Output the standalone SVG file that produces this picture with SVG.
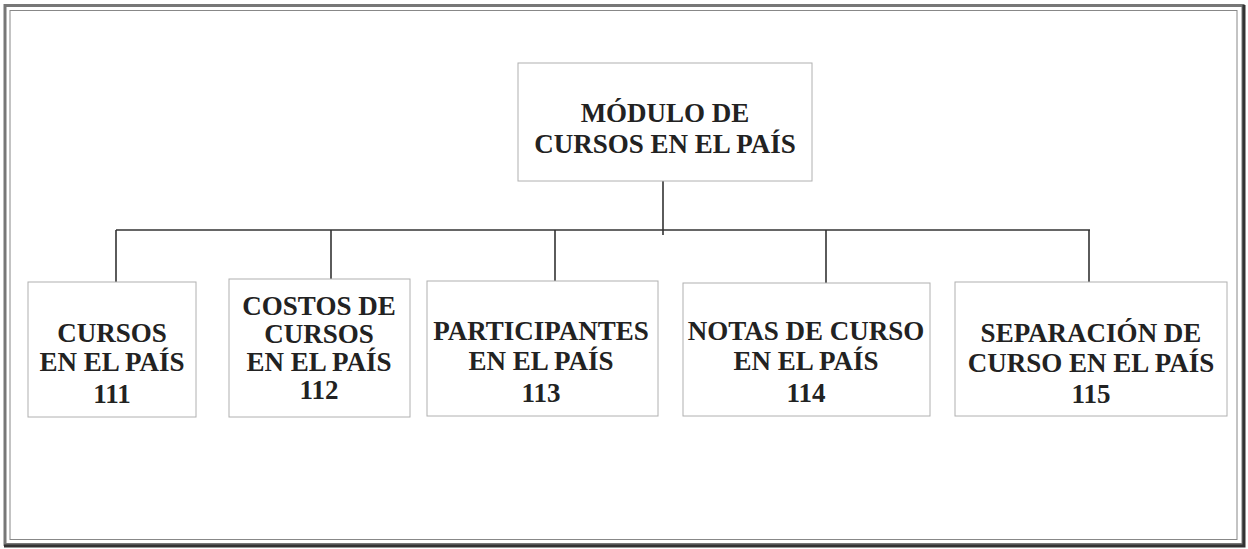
<svg xmlns="http://www.w3.org/2000/svg" width="1248" height="549" viewBox="0 0 1248 549">
<style>
.box{fill:#fff;stroke:#b0b0b0;stroke-width:1}
.t{font-family:"Liberation Serif","Times New Roman",serif;font-weight:bold;font-size:27px;fill:#222;text-anchor:middle}
.c{stroke:#333;stroke-width:1.6;fill:none}
</style>
<rect x="0" y="0" width="1248" height="549" fill="#fff"/>
<g id="frame">
<rect x="5" y="5.5" width="1238" height="539" fill="none" stroke="#777" stroke-width="3"/>
<rect x="10" y="10.5" width="1227" height="529" fill="none" stroke="#888" stroke-width="1"/>
<path d="M1244 5 V546 H4" fill="none" stroke="#333" stroke-width="3"/>
</g>
<g id="connectors">
<path class="c" d="M663 181 V235"/>
<path class="c" d="M116 230 H1090"/>
<path class="c" d="M116 230 V282"/>
<path class="c" d="M331 230 V279"/>
<path class="c" d="M555 230 V281"/>
<path class="c" d="M826 230 V283"/>
<path class="c" d="M1089 230 V282"/>
</g>
<g id="root">
<rect class="box" x="518" y="63" width="294" height="118"/>
<text class="t" x="665" y="122">MÓDULO DE</text>
<text class="t" x="665" y="153">CURSOS EN EL PAÍS</text>
</g>
<g id="n111">
<rect class="box" x="28" y="282" width="168" height="135"/>
<text class="t" x="112" y="342">CURSOS</text>
<text class="t" x="112" y="371">EN EL PAÍS</text>
<text class="t" x="112" y="403">111</text>
</g>
<g id="n112">
<rect class="box" x="229" y="279" width="181" height="138"/>
<text class="t" x="319" y="315">COSTOS DE</text>
<text class="t" x="319" y="343">CURSOS</text>
<text class="t" x="319" y="371">EN EL PAÍS</text>
<text class="t" x="319" y="399">112</text>
</g>
<g id="n113">
<rect class="box" x="427" y="281" width="231" height="135"/>
<text class="t" x="541" y="340">PARTICIPANTES</text>
<text class="t" x="541" y="370">EN EL PAÍS</text>
<text class="t" x="541" y="402">113</text>
</g>
<g id="n114">
<rect class="box" x="683" y="283" width="247" height="133"/>
<text class="t" x="806" y="340">NOTAS DE CURSO</text>
<text class="t" x="806" y="370">EN EL PAÍS</text>
<text class="t" x="806" y="402">114</text>
</g>
<g id="n115">
<rect class="box" x="955" y="282" width="272" height="134"/>
<text class="t" x="1091" y="342">SEPARACIÓN DE</text>
<text class="t" x="1091" y="372">CURSO EN EL PAÍS</text>
<text class="t" x="1091" y="403">115</text>
</g>
</svg>
